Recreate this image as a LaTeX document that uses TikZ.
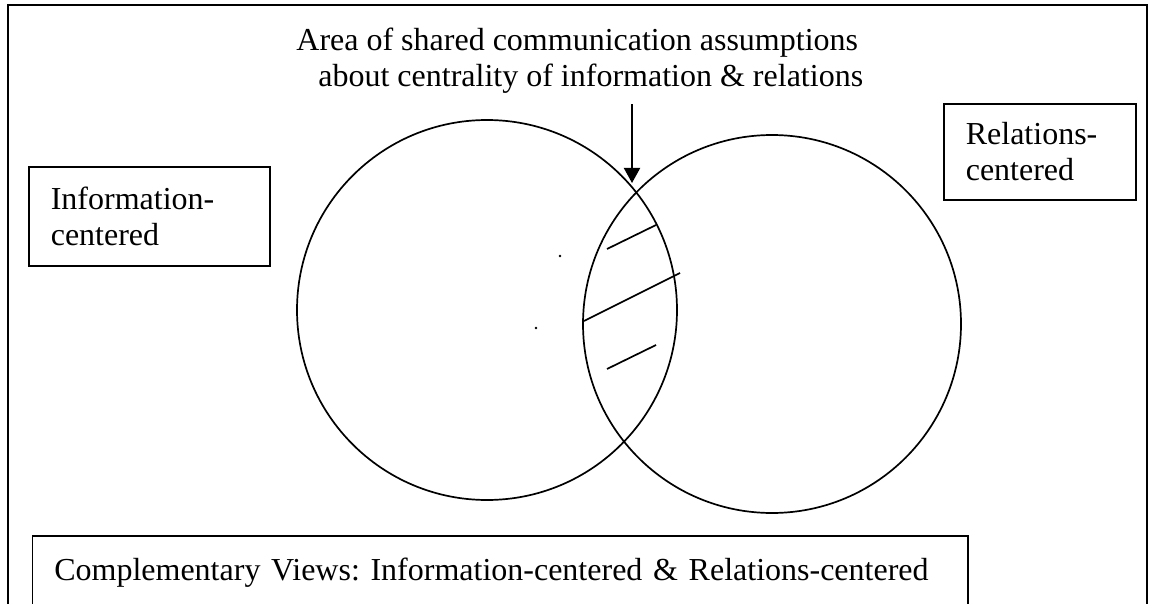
\documentclass[tikz,border=0pt]{standalone}
\usepackage{fontspec}
\setmainfont{Liberation Serif}
\usetikzlibrary{arrows.meta}
\frenchspacing

\begin{document}
\begin{tikzpicture}[
  x=0.5pt, y=-0.5pt,
  font=\fontsize{16}{18}\selectfont,
  % --- styles ---
  frame/.style={line width=1pt},
  view/.style={circle, draw, line width=0.85pt, inner sep=0pt},
  viewbox/.style={draw, line width=0.8pt, align=left, anchor=north west,
    inner ysep=0pt, inner xsep=11pt},
  note/.style={anchor=north west, inner sep=0pt, align=left},
  hatch/.style={line width=0.85pt},
  arrow/.style={-{Triangle[width=8pt,length=7.5pt]}, line width=1pt}
]

\useasboundingbox (0,0) rectangle (1150,604);

% outer frame, open at the bottom
\draw[frame] (8,604) -- (8,5) -- (1147,5) -- (1147,604);

% the two overlapping views
\node[view, minimum size=190pt] (infoview) at (487,310) {};
\node[view, minimum size=189pt] (relview)  at (772,324) {};

% view labels
\node[viewbox, text width=98.5pt, minimum height=49.5pt] (infobox) at (28,166) {Information-\\centered};
\node[viewbox, text width=74pt, minimum height=48pt] (relbox) at (943,103) {Relations-\\centered};

% overlap note + pointer
\node[note] (overlap) at (296,28)
  {Area of shared communication assumptions\\\hspace*{11pt}about centrality of information \& relations};
\coordinate (lenstop) at (632,183);
\draw[arrow, shorten <=5pt] (overlap.south -| lenstop) -- (lenstop);

% hatching of the overlap
\draw[hatch] (607,249) -- (656,225);
\draw[hatch] (584,321) -- (680,273);
\draw[hatch] (607,369) -- (656,345);

% stray specks
\fill (560,256) circle[radius=1.3];
\fill (536,328) circle[radius=1.3];

% caption box (runs off the bottom)
\node[viewbox, text width=445.75pt, text height=11pt, text depth=40pt, inner ysep=11.5pt] (caption) at (31.5,535)
  {Complementary Views: Information-centered \& Relations-centered};

\end{tikzpicture}
\end{document}
